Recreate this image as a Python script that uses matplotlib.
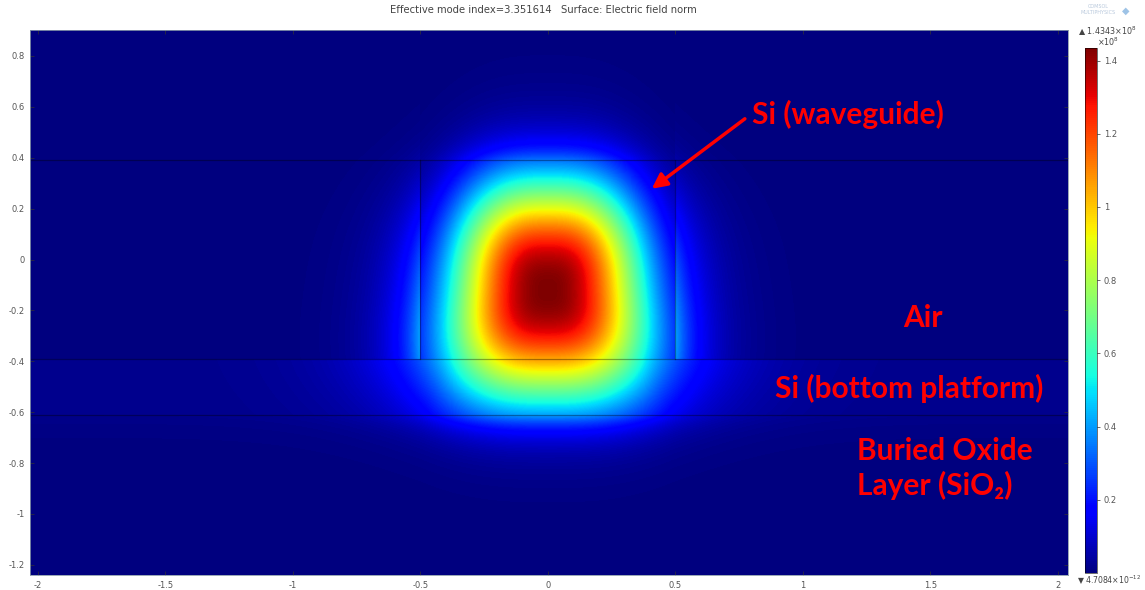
import numpy as np
import matplotlib
matplotlib.use("Agg")
import matplotlib.pyplot as plt

plt.rcParams["axes.unicode_minus"] = False

# ---- geometry of the cross-section (µm) ----
ridge_half_width = 0.5
ridge_top = 0.39
ridge_bottom = -0.39
slab_bottom = -0.61

# ---- mode-field description (norm in units of 1e8 V/m) ----
field_max = 1.4343
field_min_label = "4.7084\u00d710$^{-12}$"
field_max_label = "1.4343\u00d710$^{8}$"
mode_center_y = -0.12
core_widths = [0.386, 0.441]       # horizontal / vertical half-widths of the core profile
width_growth = -0.11               # horizontal widening towards the slab
shape_exponents = [2.8, 2.4]       # superellipse exponent, decay exponent
decay_lengths = {"side": 0.11, "top": 0.1, "slab": 0.2, "oxide": 0.08}
side_step = 1.6
slab_knee = 0.4
slab_floor = 0.012

title_text = "Effective mode index=3.351614   Surface: Electric field norm"
x_ticks = [-2, -1.5, -1, -0.5, 0, 0.5, 1, 1.5, 2]
y_ticks = [0.8, 0.6, 0.4, 0.2, 0, -0.2, -0.4, -0.6, -0.8, -1, -1.2]
cbar_ticks = [0.2, 0.4, 0.6, 0.8, 1.0, 1.2, 1.4]
x_limits = [-2.03, 2.04]
y_limits = [-1.24, 0.902]

region_labels = ["Si (waveguide)", "Air", "Si (bottom platform)", "Buried Oxide", "Layer (SiO\u2082)"]
label_anchor_x = [0.80, 1.392, 0.89, 1.212, 1.212]
label_anchor_y = [0.533, -0.267, -0.545, -0.788, -0.925]
arrow_tail = [0.773, 0.553]
arrow_tip = [0.408, 0.278]


def core_profile(x, y):
    d = y - mode_center_y
    ax_ = core_widths[0] + width_growth * d
    ay_ = core_widths[1]
    m, p = shape_exponents
    r = (np.abs(x / ax_) ** m + np.abs(d / ay_) ** m) ** (1.0 / m)
    return np.exp(-r ** p)


def ridge_band(x, y):
    inside = np.abs(x) <= ridge_half_width
    xs = np.sign(x) * ridge_half_width
    out = np.maximum(np.abs(x) - ridge_half_width, 0.0)
    side = core_profile(xs, y) * side_step * np.exp(-out / decay_lengths["side"])
    return np.where(inside, core_profile(x, y), side)


def slab_band(x, y):
    xc = np.clip(x, -slab_knee, slab_knee)
    out = np.maximum(np.abs(x) - slab_knee, 0.0)
    tail = core_profile(xc, y) * np.exp(-out / decay_lengths["slab"])
    return np.maximum(core_profile(x, y), tail) + slab_floor


# one sample per output pixel of the plot area
nx, ny = 1038, 545
dx = (x_limits[1] - x_limits[0]) / nx
dy = (y_limits[1] - y_limits[0]) / ny
xs = x_limits[0] + dx * (np.arange(nx) + 0.5)
ys = y_limits[0] + dy * (np.arange(ny) + 0.5)
X, Y = np.meshgrid(xs, ys)

F = np.zeros_like(X)
band = (Y <= ridge_top) & (Y >= ridge_bottom)
F[band] = ridge_band(X[band], Y[band])
slab = (Y < ridge_bottom) & (Y >= slab_bottom)
F[slab] = slab_band(X[slab], Y[slab])
top = Y > ridge_top
F[top] = ridge_band(X[top], np.full(top.sum(), ridge_top)) * np.exp(-(Y[top] - ridge_top) / decay_lengths["top"])
ox = Y < slab_bottom
F[ox] = slab_band(X[ox], np.full(ox.sum(), slab_bottom)) * np.exp(-(slab_bottom - Y[ox]) / decay_lengths["oxide"])
F = F / core_profile(np.array(0.0), np.array(mode_center_y)) * field_max

fig = plt.figure(figsize=(11.45, 5.90), dpi=100)
fig.patch.set_facecolor("white")
ax = fig.add_axes([30 / 1145, 15 / 590, 1038 / 1145, 545 / 590])
im = ax.imshow(F, extent=[x_limits[0], x_limits[1], y_limits[0], y_limits[1]], origin="lower",
               cmap="jet", vmin=0, vmax=field_max, interpolation="bilinear", aspect="auto")
ax.set_xlim(x_limits)
ax.set_ylim(y_limits)

# structure boundaries
line_kw = dict(color="black", alpha=0.35, lw=0.9)
for yb in (ridge_top, ridge_bottom, slab_bottom):
    ax.axhline(yb, **line_kw)
for xb in (-ridge_half_width, ridge_half_width):
    ax.plot([xb, xb], [ridge_bottom, ridge_top], **line_kw)

ax.set_xticks(x_ticks)
ax.set_xticklabels([f"{v:g}" for v in x_ticks])
ax.set_yticks(y_ticks)
ax.set_yticklabels([f"{v:g}" for v in y_ticks])
ax.tick_params(direction="in", length=3, width=0.5, colors="#333333", labelsize=6, labelcolor="#555555",
               top=True, right=True, pad=4)
for s in ax.spines.values():
    s.set_color("#8899aa")
    s.set_linewidth(0.6)

fig.text(543 / 1145, 1 - 10 / 590, title_text, ha="center", va="center", fontsize=7.2, color="#444444")

# colorbar
cax = fig.add_axes([1085 / 1145, 17 / 590, 12 / 1145, 525 / 590])
cb = fig.colorbar(im, cax=cax)
cb.set_ticks(cbar_ticks)
cb.set_ticklabels([f"{v:g}" for v in cbar_ticks])
cb.ax.tick_params(labelsize=6, labelcolor="#555555", length=2, width=0.5, color="#333333", pad=3)
cb.outline.set_linewidth(0.4)
fig.text(1078 / 1145, 1 - 31 / 590, "\u25b2 " + field_max_label, ha="left", va="center", fontsize=5.8, color="#444444")
fig.text(1097 / 1145, 1 - 42 / 590, "\u00d710$^{8}$", ha="left", va="center", fontsize=5.8, color="#444444")
fig.text(1077 / 1145, 1 - 580 / 590, "\u25bc " + field_min_label, ha="left", va="center", fontsize=5.6, color="#444444")

# software mark
fig.text(1098 / 1145, 1 - 7 / 590, "COMSOL", ha="center", va="center", fontsize=3.5, color="#b8c8dc")
fig.text(1098 / 1145, 1 - 13 / 590, "MULTIPHYSICS", ha="center", va="center", fontsize=3.5, color="#b8c8dc")
fig.text(1126 / 1145, 1 - 11 / 590, "\u25c6", ha="center", va="center", fontsize=7, color="#9ec3e6")

# region labels
lab_kw = dict(color="#ff0000", fontsize=21.5, fontweight="bold", family=["Lato", "DejaVu Sans"],
              ha="left", va="baseline")
for txt, lx, ly in zip(region_labels, label_anchor_x, label_anchor_y):
    ax.text(lx, ly, txt, **lab_kw)
ax.annotate("", xy=arrow_tip, xytext=arrow_tail,
            arrowprops=dict(arrowstyle="-|>,head_length=0.9,head_width=0.45", color="#ff0000", lw=2.5,
                            shrinkA=0, shrinkB=0))

fig.savefig("out.png", dpi=100)
